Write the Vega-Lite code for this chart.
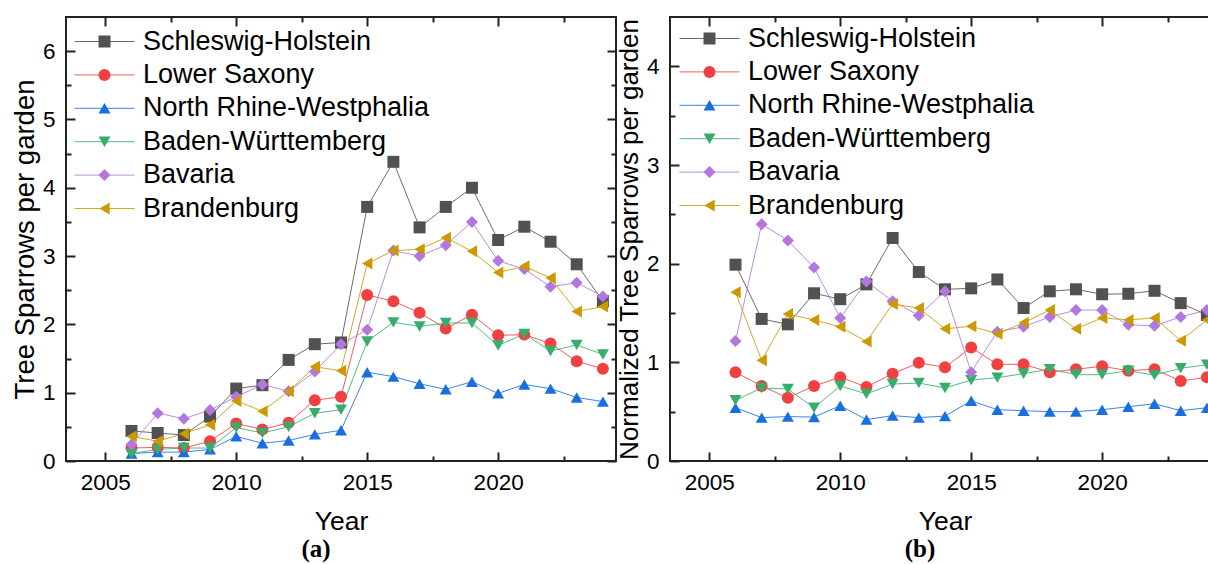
{
"$schema": "https://vega.github.io/schema/vega-lite/v6.json",
"padding": {"left": 10, "top": 15, "right": 0, "bottom": 0},
"autosize": {"type": "pad"},
"datasets": {
"raw": [
{"year":2006,"state":"Schleswig-Holstein","value":0.44},{"year":2007,"state":"Schleswig-Holstein","value":0.41},{"year":2008,"state":"Schleswig-Holstein","value":0.38},{"year":2009,"state":"Schleswig-Holstein","value":0.65},{"year":2010,"state":"Schleswig-Holstein","value":1.06},{"year":2011,"state":"Schleswig-Holstein","value":1.11},{"year":2012,"state":"Schleswig-Holstein","value":1.48},{"year":2013,"state":"Schleswig-Holstein","value":1.71},{"year":2014,"state":"Schleswig-Holstein","value":1.735},{"year":2015,"state":"Schleswig-Holstein","value":3.72},{"year":2016,"state":"Schleswig-Holstein","value":4.38},{"year":2017,"state":"Schleswig-Holstein","value":3.42},{"year":2018,"state":"Schleswig-Holstein","value":3.72},{"year":2019,"state":"Schleswig-Holstein","value":4.0},{"year":2020,"state":"Schleswig-Holstein","value":3.235},{"year":2021,"state":"Schleswig-Holstein","value":3.43},{"year":2022,"state":"Schleswig-Holstein","value":3.21},{"year":2023,"state":"Schleswig-Holstein","value":2.88},{"year":2024,"state":"Schleswig-Holstein","value":2.34},
{"year":2006,"state":"Lower Saxony","value":0.19},{"year":2007,"state":"Lower Saxony","value":0.2},{"year":2008,"state":"Lower Saxony","value":0.19},{"year":2009,"state":"Lower Saxony","value":0.29},{"year":2010,"state":"Lower Saxony","value":0.55},{"year":2011,"state":"Lower Saxony","value":0.46},{"year":2012,"state":"Lower Saxony","value":0.56},{"year":2013,"state":"Lower Saxony","value":0.89},{"year":2014,"state":"Lower Saxony","value":0.94},{"year":2015,"state":"Lower Saxony","value":2.43},{"year":2016,"state":"Lower Saxony","value":2.34},{"year":2017,"state":"Lower Saxony","value":2.17},{"year":2018,"state":"Lower Saxony","value":1.94},{"year":2019,"state":"Lower Saxony","value":2.14},{"year":2020,"state":"Lower Saxony","value":1.84},{"year":2021,"state":"Lower Saxony","value":1.85},{"year":2022,"state":"Lower Saxony","value":1.72},{"year":2023,"state":"Lower Saxony","value":1.46},{"year":2024,"state":"Lower Saxony","value":1.35},
{"year":2006,"state":"North Rhine-Westphalia","value":0.11},{"year":2007,"state":"North Rhine-Westphalia","value":0.13},{"year":2008,"state":"North Rhine-Westphalia","value":0.13},{"year":2009,"state":"North Rhine-Westphalia","value":0.17},{"year":2010,"state":"North Rhine-Westphalia","value":0.36},{"year":2011,"state":"North Rhine-Westphalia","value":0.26},{"year":2012,"state":"North Rhine-Westphalia","value":0.3},{"year":2013,"state":"North Rhine-Westphalia","value":0.39},{"year":2014,"state":"North Rhine-Westphalia","value":0.45},{"year":2015,"state":"North Rhine-Westphalia","value":1.3},{"year":2016,"state":"North Rhine-Westphalia","value":1.235},{"year":2017,"state":"North Rhine-Westphalia","value":1.13},{"year":2018,"state":"North Rhine-Westphalia","value":1.05},{"year":2019,"state":"North Rhine-Westphalia","value":1.16},{"year":2020,"state":"North Rhine-Westphalia","value":0.99},{"year":2021,"state":"North Rhine-Westphalia","value":1.12},{"year":2022,"state":"North Rhine-Westphalia","value":1.06},{"year":2023,"state":"North Rhine-Westphalia","value":0.93},{"year":2024,"state":"North Rhine-Westphalia","value":0.87},
{"year":2006,"state":"Baden-Württemberg","value":0.11},{"year":2007,"state":"Baden-Württemberg","value":0.17},{"year":2008,"state":"Baden-Württemberg","value":0.19},{"year":2009,"state":"Baden-Württemberg","value":0.19},{"year":2010,"state":"Baden-Württemberg","value":0.49},{"year":2011,"state":"Baden-Württemberg","value":0.41},{"year":2012,"state":"Baden-Württemberg","value":0.5},{"year":2013,"state":"Baden-Württemberg","value":0.7},{"year":2014,"state":"Baden-Württemberg","value":0.75},{"year":2015,"state":"Baden-Württemberg","value":1.75},{"year":2016,"state":"Baden-Württemberg","value":2.03},{"year":2017,"state":"Baden-Württemberg","value":1.97},{"year":2018,"state":"Baden-Württemberg","value":2.02},{"year":2019,"state":"Baden-Württemberg","value":2.02},{"year":2020,"state":"Baden-Württemberg","value":1.69},{"year":2021,"state":"Baden-Württemberg","value":1.86},{"year":2022,"state":"Baden-Württemberg","value":1.61},{"year":2023,"state":"Baden-Württemberg","value":1.7},{"year":2024,"state":"Baden-Württemberg","value":1.56},
{"year":2006,"state":"Bavaria","value":0.24},{"year":2007,"state":"Bavaria","value":0.7},{"year":2008,"state":"Bavaria","value":0.62},{"year":2009,"state":"Bavaria","value":0.745},{"year":2010,"state":"Bavaria","value":0.94},{"year":2011,"state":"Bavaria","value":1.12},{"year":2012,"state":"Bavaria","value":1.02},{"year":2013,"state":"Bavaria","value":1.31},{"year":2014,"state":"Bavaria","value":1.71},{"year":2015,"state":"Bavaria","value":1.92},{"year":2016,"state":"Bavaria","value":3.08},{"year":2017,"state":"Bavaria","value":3.0},{"year":2018,"state":"Bavaria","value":3.16},{"year":2019,"state":"Bavaria","value":3.5},{"year":2020,"state":"Bavaria","value":2.93},{"year":2021,"state":"Bavaria","value":2.81},{"year":2022,"state":"Bavaria","value":2.55},{"year":2023,"state":"Bavaria","value":2.61},{"year":2024,"state":"Bavaria","value":2.41},
{"year":2006,"state":"Brandenburg","value":0.36},{"year":2007,"state":"Brandenburg","value":0.29},{"year":2008,"state":"Brandenburg","value":0.4},{"year":2009,"state":"Brandenburg","value":0.53},{"year":2010,"state":"Brandenburg","value":0.88},{"year":2011,"state":"Brandenburg","value":0.73},{"year":2012,"state":"Brandenburg","value":1.02},{"year":2013,"state":"Brandenburg","value":1.38},{"year":2014,"state":"Brandenburg","value":1.32},{"year":2015,"state":"Brandenburg","value":2.89},{"year":2016,"state":"Brandenburg","value":3.08},{"year":2017,"state":"Brandenburg","value":3.1},{"year":2018,"state":"Brandenburg","value":3.27},{"year":2019,"state":"Brandenburg","value":3.07},{"year":2020,"state":"Brandenburg","value":2.76},{"year":2021,"state":"Brandenburg","value":2.85},{"year":2022,"state":"Brandenburg","value":2.68},{"year":2023,"state":"Brandenburg","value":2.19},{"year":2024,"state":"Brandenburg","value":2.26}
],
"norm": [
{"year":2006,"state":"Schleswig-Holstein","value":1.99},{"year":2007,"state":"Schleswig-Holstein","value":1.44},{"year":2008,"state":"Schleswig-Holstein","value":1.385},{"year":2009,"state":"Schleswig-Holstein","value":1.7},{"year":2010,"state":"Schleswig-Holstein","value":1.64},{"year":2011,"state":"Schleswig-Holstein","value":1.79},{"year":2012,"state":"Schleswig-Holstein","value":2.26},{"year":2013,"state":"Schleswig-Holstein","value":1.915},{"year":2014,"state":"Schleswig-Holstein","value":1.74},{"year":2015,"state":"Schleswig-Holstein","value":1.75},{"year":2016,"state":"Schleswig-Holstein","value":1.84},{"year":2017,"state":"Schleswig-Holstein","value":1.55},{"year":2018,"state":"Schleswig-Holstein","value":1.72},{"year":2019,"state":"Schleswig-Holstein","value":1.74},{"year":2020,"state":"Schleswig-Holstein","value":1.69},{"year":2021,"state":"Schleswig-Holstein","value":1.695},{"year":2022,"state":"Schleswig-Holstein","value":1.725},{"year":2023,"state":"Schleswig-Holstein","value":1.6},{"year":2024,"state":"Schleswig-Holstein","value":1.48},
{"year":2006,"state":"Lower Saxony","value":0.9},{"year":2007,"state":"Lower Saxony","value":0.76},{"year":2008,"state":"Lower Saxony","value":0.64},{"year":2009,"state":"Lower Saxony","value":0.76},{"year":2010,"state":"Lower Saxony","value":0.85},{"year":2011,"state":"Lower Saxony","value":0.75},{"year":2012,"state":"Lower Saxony","value":0.885},{"year":2013,"state":"Lower Saxony","value":0.995},{"year":2014,"state":"Lower Saxony","value":0.95},{"year":2015,"state":"Lower Saxony","value":1.15},{"year":2016,"state":"Lower Saxony","value":0.98},{"year":2017,"state":"Lower Saxony","value":0.98},{"year":2018,"state":"Lower Saxony","value":0.9},{"year":2019,"state":"Lower Saxony","value":0.93},{"year":2020,"state":"Lower Saxony","value":0.96},{"year":2021,"state":"Lower Saxony","value":0.915},{"year":2022,"state":"Lower Saxony","value":0.93},{"year":2023,"state":"Lower Saxony","value":0.81},{"year":2024,"state":"Lower Saxony","value":0.85},
{"year":2006,"state":"North Rhine-Westphalia","value":0.54},{"year":2007,"state":"North Rhine-Westphalia","value":0.44},{"year":2008,"state":"North Rhine-Westphalia","value":0.45},{"year":2009,"state":"North Rhine-Westphalia","value":0.445},{"year":2010,"state":"North Rhine-Westphalia","value":0.56},{"year":2011,"state":"North Rhine-Westphalia","value":0.42},{"year":2012,"state":"North Rhine-Westphalia","value":0.46},{"year":2013,"state":"North Rhine-Westphalia","value":0.44},{"year":2014,"state":"North Rhine-Westphalia","value":0.455},{"year":2015,"state":"North Rhine-Westphalia","value":0.61},{"year":2016,"state":"North Rhine-Westphalia","value":0.52},{"year":2017,"state":"North Rhine-Westphalia","value":0.51},{"year":2018,"state":"North Rhine-Westphalia","value":0.5},{"year":2019,"state":"North Rhine-Westphalia","value":0.5},{"year":2020,"state":"North Rhine-Westphalia","value":0.52},{"year":2021,"state":"North Rhine-Westphalia","value":0.55},{"year":2022,"state":"North Rhine-Westphalia","value":0.58},{"year":2023,"state":"North Rhine-Westphalia","value":0.51},{"year":2024,"state":"North Rhine-Westphalia","value":0.54},
{"year":2006,"state":"Baden-Württemberg","value":0.615},{"year":2007,"state":"Baden-Württemberg","value":0.74},{"year":2008,"state":"Baden-Württemberg","value":0.73},{"year":2009,"state":"Baden-Württemberg","value":0.54},{"year":2010,"state":"Baden-Württemberg","value":0.76},{"year":2011,"state":"Baden-Württemberg","value":0.68},{"year":2012,"state":"Baden-Württemberg","value":0.78},{"year":2013,"state":"Baden-Württemberg","value":0.79},{"year":2014,"state":"Baden-Württemberg","value":0.74},{"year":2015,"state":"Baden-Württemberg","value":0.82},{"year":2016,"state":"Baden-Württemberg","value":0.845},{"year":2017,"state":"Baden-Württemberg","value":0.885},{"year":2018,"state":"Baden-Württemberg","value":0.93},{"year":2019,"state":"Baden-Württemberg","value":0.875},{"year":2020,"state":"Baden-Württemberg","value":0.875},{"year":2021,"state":"Baden-Württemberg","value":0.915},{"year":2022,"state":"Baden-Württemberg","value":0.87},{"year":2023,"state":"Baden-Württemberg","value":0.94},{"year":2024,"state":"Baden-Württemberg","value":0.975},
{"year":2006,"state":"Bavaria","value":1.215},{"year":2007,"state":"Bavaria","value":2.4},{"year":2008,"state":"Bavaria","value":2.235},{"year":2009,"state":"Bavaria","value":1.96},{"year":2010,"state":"Bavaria","value":1.45},{"year":2011,"state":"Bavaria","value":1.82},{"year":2012,"state":"Bavaria","value":1.62},{"year":2013,"state":"Bavaria","value":1.475},{"year":2014,"state":"Bavaria","value":1.72},{"year":2015,"state":"Bavaria","value":0.9},{"year":2016,"state":"Bavaria","value":1.31},{"year":2017,"state":"Bavaria","value":1.36},{"year":2018,"state":"Bavaria","value":1.46},{"year":2019,"state":"Bavaria","value":1.53},{"year":2020,"state":"Bavaria","value":1.53},{"year":2021,"state":"Bavaria","value":1.38},{"year":2022,"state":"Bavaria","value":1.37},{"year":2023,"state":"Bavaria","value":1.46},{"year":2024,"state":"Bavaria","value":1.53},
{"year":2006,"state":"Brandenburg","value":1.71},{"year":2007,"state":"Brandenburg","value":1.02},{"year":2008,"state":"Brandenburg","value":1.49},{"year":2009,"state":"Brandenburg","value":1.43},{"year":2010,"state":"Brandenburg","value":1.36},{"year":2011,"state":"Brandenburg","value":1.21},{"year":2012,"state":"Brandenburg","value":1.59},{"year":2013,"state":"Brandenburg","value":1.55},{"year":2014,"state":"Brandenburg","value":1.34},{"year":2015,"state":"Brandenburg","value":1.365},{"year":2016,"state":"Brandenburg","value":1.29},{"year":2017,"state":"Brandenburg","value":1.4},{"year":2018,"state":"Brandenburg","value":1.53},{"year":2019,"state":"Brandenburg","value":1.34},{"year":2020,"state":"Brandenburg","value":1.45},{"year":2021,"state":"Brandenburg","value":1.43},{"year":2022,"state":"Brandenburg","value":1.45},{"year":2023,"state":"Brandenburg","value":1.22},{"year":2024,"state":"Brandenburg","value":1.43}
]
},
"config": {
"font": "Liberation Sans",
"view": {"stroke": "#222222", "strokeWidth": 2},
"axis": {"grid": false, "domain": false, "tickColor": "#222222", "tickWidth": 2, "labelFont": "Liberation Sans", "labelFontSize": 22.5, "labelColor": "#000000", "titleFont": "Liberation Sans", "titleFontSize": 26.5, "titleFontWeight": "normal", "titleColor": "#000000", "labelFlush": false, "labelOverlap": false},
"legend": {"labelFont": "Liberation Sans", "labelFontSize": 27, "labelColor": "#000000", "labelLimit": 500, "padding": 0, "rowPadding": 5.4, "symbolSize": 144, "titlePadding": 0}
},
"spacing": 54,
"bounds": "flush",
"resolve": {"scale": {"stroke": "independent", "fill": "independent", "shape": "independent"}},
"hconcat": [
{
"width": 550, "height": 444,
"data": {"name": "raw"},
"title": {"text": "(a)", "orient": "bottom", "anchor": "middle", "font": "Liberation Serif", "fontSize": 25, "fontWeight": "bold", "color": "#000000", "dx": -25, "offset": 2},
"resolve": {"axis": {"x": "independent", "y": "independent"}},
"layer": [
{"mark": {"type": "line", "strokeWidth": 1, "opacity": 0.85},
"encoding": {
"x": {"field": "year", "type": "quantitative", "scale": {"domain": [2003.5, 2024.5], "nice": false, "zero": false},
"axis": {"orient": "bottom", "values": [2005, 2010, 2015, 2020], "format": "d", "tickSize": -9, "labelPadding": 19, "title": "Year", "titleY": 60, "titleBaseline": "middle"}},
"y": {"field": "value", "type": "quantitative", "scale": {"domain": [0, 6.5], "nice": false},
"axis": {"orient": "left", "values": [0, 1, 2, 3, 4, 5, 6], "tickSize": -9, "labelPadding": 20, "title": "Tree Sparrows per garden", "titleFontSize": 27.5, "titleX": -41, "titleY": 222, "titleAlign": "center", "titleBaseline": "middle"}},
"stroke": {"field": "state", "type": "nominal",
"scale": {"domain": ["Brandenburg", "Bavaria", "Baden-Württemberg", "North Rhine-Westphalia", "Lower Saxony", "Schleswig-Holstein"], "range": ["#CC9900", "#B177DE", "#37AD6B", "#1A6FDF", "#F14040", "#515151"]},
"legend": {"orient": "none", "legendX": 25, "legendY": 11, "title": null, "values": ["Schleswig-Holstein", "Lower Saxony", "North Rhine-Westphalia", "Baden-Württemberg", "Bavaria", "Brandenburg"], "symbolType": "M-5,0H5", "symbolStrokeWidth": 1, "labelOpacity": 0, "labelOffset": 25}}
}},
{"mark": {"type": "point", "filled": true, "size": 144, "opacity": 1},
"encoding": {
"x": {"field": "year", "type": "quantitative", "axis": {"orient": "bottom", "values": [2007.5, 2012.5, 2017.5, 2022.5], "tickSize": -5, "labels": false, "title": null}},
"y": {"field": "value", "type": "quantitative", "axis": {"orient": "left", "values": [0.5, 1.5, 2.5, 3.5, 4.5, 5.5], "tickSize": -5, "labels": false, "title": null}},
"fill": {"field": "state", "type": "nominal",
"scale": {"domain": ["Schleswig-Holstein", "Lower Saxony", "North Rhine-Westphalia", "Baden-Württemberg", "Bavaria", "Brandenburg"], "range": ["#515151", "#F14040", "#1A6FDF", "#37AD6B", "#B177DE", "#CC9900"]},
"legend": {"orient": "none", "legendX": 25, "legendY": 11, "title": null, "symbolStrokeWidth": 0, "labelOffset": 25}},
"shape": {"field": "state", "type": "nominal",
"scale": {"domain": ["Schleswig-Holstein", "Lower Saxony", "North Rhine-Westphalia", "Baden-Württemberg", "Bavaria", "Brandenburg"], "range": ["square", "circle", "triangle-up", "triangle-down", "diamond", "triangle-left"]},
"legend": {"orient": "none", "legendX": 25, "legendY": 11, "title": null, "symbolStrokeWidth": 0, "labelOffset": 25}}
}},
{"mark": {"type": "point", "opacity": 0},
"encoding": {
"x": {"field": "year", "type": "quantitative", "axis": {"orient": "top", "values": [2005, 2010, 2015, 2020], "tickSize": -9, "labels": false, "title": null}},
"y": {"field": "value", "type": "quantitative", "axis": {"orient": "right", "values": [0, 1, 2, 3, 4, 5, 6], "tickSize": -9, "labels": false, "title": null}}
}},
{"mark": {"type": "point", "opacity": 0},
"encoding": {
"x": {"field": "year", "type": "quantitative", "axis": {"orient": "top", "values": [2007.5, 2012.5, 2017.5, 2022.5], "tickSize": -5, "labels": false, "title": null}},
"y": {"field": "value", "type": "quantitative", "axis": {"orient": "right", "values": [0.5, 1.5, 2.5, 3.5, 4.5, 5.5], "tickSize": -5, "labels": false, "title": null}}
}}
]
},
{
"width": 550, "height": 444,
"data": {"name": "norm"},
"title": {"text": "(b)", "orient": "bottom", "anchor": "middle", "font": "Liberation Serif", "fontSize": 25, "fontWeight": "bold", "color": "#000000", "dx": -25, "offset": 2},
"resolve": {"axis": {"x": "independent", "y": "independent"}},
"layer": [
{"mark": {"type": "line", "strokeWidth": 1, "opacity": 0.85},
"encoding": {
"x": {"field": "year", "type": "quantitative", "scale": {"domain": [2003.5, 2024.5], "nice": false, "zero": false},
"axis": {"orient": "bottom", "values": [2005, 2010, 2015, 2020], "format": "d", "tickSize": -9, "labelPadding": 19, "title": "Year", "titleY": 60, "titleBaseline": "middle"}},
"y": {"field": "value", "type": "quantitative", "scale": {"domain": [0, 4.5], "nice": false},
"axis": {"orient": "left", "values": [0, 1, 2, 3, 4], "tickSize": -9, "labelPadding": 20, "title": "Normalized Tree Sparrows per garden", "titleFontSize": 26, "titleX": -41, "titleY": 222, "titleAlign": "center", "titleBaseline": "middle"}},
"stroke": {"field": "state", "type": "nominal",
"scale": {"domain": ["Brandenburg", "Bavaria", "Baden-Württemberg", "North Rhine-Westphalia", "Lower Saxony", "Schleswig-Holstein"], "range": ["#CC9900", "#B177DE", "#37AD6B", "#1A6FDF", "#F14040", "#515151"]},
"legend": {"orient": "none", "legendX": 26, "legendY": 8, "title": null, "values": ["Schleswig-Holstein", "Lower Saxony", "North Rhine-Westphalia", "Baden-Württemberg", "Bavaria", "Brandenburg"], "symbolType": "M-5,0H5", "symbolStrokeWidth": 1, "labelOpacity": 0, "labelOffset": 25}}
}},
{"mark": {"type": "point", "filled": true, "size": 144, "opacity": 1},
"encoding": {
"x": {"field": "year", "type": "quantitative", "axis": {"orient": "bottom", "values": [2007.5, 2012.5, 2017.5, 2022.5], "tickSize": -5, "labels": false, "title": null}},
"y": {"field": "value", "type": "quantitative", "axis": {"orient": "left", "values": [0.5, 1.5, 2.5, 3.5], "tickSize": -5, "labels": false, "title": null}},
"fill": {"field": "state", "type": "nominal",
"scale": {"domain": ["Schleswig-Holstein", "Lower Saxony", "North Rhine-Westphalia", "Baden-Württemberg", "Bavaria", "Brandenburg"], "range": ["#515151", "#F14040", "#1A6FDF", "#37AD6B", "#B177DE", "#CC9900"]},
"legend": {"orient": "none", "legendX": 26, "legendY": 8, "title": null, "symbolStrokeWidth": 0, "labelOffset": 25}},
"shape": {"field": "state", "type": "nominal",
"scale": {"domain": ["Schleswig-Holstein", "Lower Saxony", "North Rhine-Westphalia", "Baden-Württemberg", "Bavaria", "Brandenburg"], "range": ["square", "circle", "triangle-up", "triangle-down", "diamond", "triangle-left"]},
"legend": {"orient": "none", "legendX": 26, "legendY": 8, "title": null, "symbolStrokeWidth": 0, "labelOffset": 25}}
}},
{"mark": {"type": "point", "opacity": 0},
"encoding": {
"x": {"field": "year", "type": "quantitative", "axis": {"orient": "top", "values": [2005, 2010, 2015, 2020], "tickSize": -9, "labels": false, "title": null}},
"y": {"field": "value", "type": "quantitative", "axis": {"orient": "right", "values": [0, 1, 2, 3, 4], "tickSize": -9, "labels": false, "title": null}}
}},
{"mark": {"type": "point", "opacity": 0},
"encoding": {
"x": {"field": "year", "type": "quantitative", "axis": {"orient": "top", "values": [2007.5, 2012.5, 2017.5, 2022.5], "tickSize": -5, "labels": false, "title": null}},
"y": {"field": "value", "type": "quantitative", "axis": {"orient": "right", "values": [0.5, 1.5, 2.5, 3.5], "tickSize": -5, "labels": false, "title": null}}
}}
]
}
]
}
